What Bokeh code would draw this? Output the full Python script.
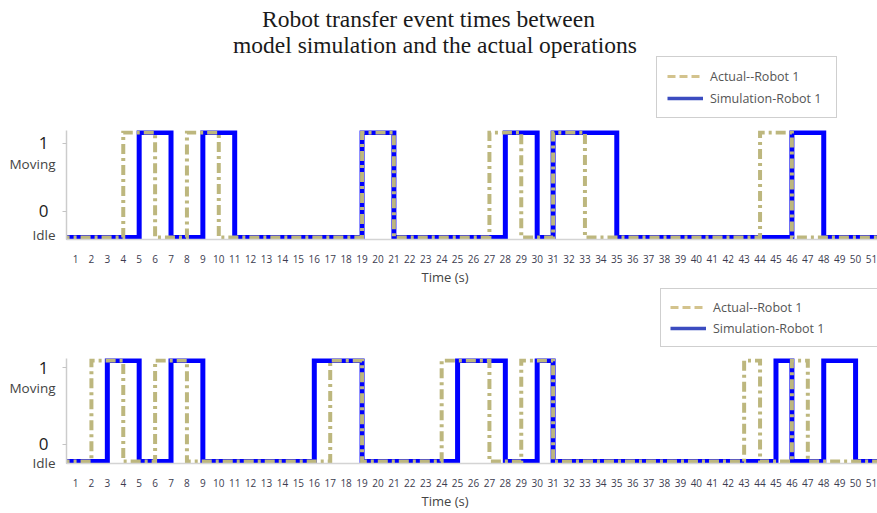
from bokeh.plotting import figure
from bokeh.models import Range1d, FixedTicker, Legend, LegendItem, LinearAxis, Title
from bokeh.core.properties import value
from bokeh.layouts import column
from bokeh.embed import file_html
from bokeh.resources import INLINE

# ---------------- data ----------------
time_ticks = list(range(1, 52))          # x tick labels, seconds
t_first, t_last = 0, 52                  # signal extent (clipped by the frame)

# top panel: rise / fall event times (s)
top_actual_rise = [4, 8, 19, 27, 31, 44]
top_actual_fall = [6, 10, 21, 29, 33, 46]
top_sim_rise = [5, 9, 19, 28, 31, 46]
top_sim_fall = [7, 11, 21, 30, 35, 48]

# bottom panel: rise / fall event times (s)
bot_actual_rise = [2, 6, 17, 24, 29, 43, 46]
bot_actual_fall = [4, 8, 19, 27, 31, 44, 47]
bot_sim_rise = [3, 7, 16, 25, 30, 45, 48]
bot_sim_fall = [5, 9, 19, 28, 31, 46, 50]

state_names = ["Idle", "Moving"]
state_digits = ["0", "1"]
legend_labels = ["Actual--Robot 1", "Simulation-Robot 1"]
title_lines = ["Robot transfer event times between",
               "model simulation and the actual operations"]
x_title = "Time (s)"

# ---------------- styling ----------------
SANS = "Open Sans"
SERIF = "Liberation Serif"
BLUE = "#0000ff"
KHAKI = "#bdb77e"
LEG_KHAKI = "#d3c38d"
LEG_BLUE = "#3b4cc0"
W = 877
LEFT = 66
NAN = float("nan")


def step_xy(rises, falls):
    xs, ys = [t_first], [0]
    for r, f in zip(rises, falls):
        xs += [r, r, f, f]
        ys += [0, 1, 1, 0]
    xs.append(t_last)
    ys.append(0)
    return xs, ys


def make_header(height, leg_loc, leg_pad, leg_spacing, leg_label_width):
    """Strip above a chart that holds the legend (and the title)."""
    h = figure(width=W, height=height, x_range=Range1d(LEFT, W),
               y_range=Range1d(height, 0), output_backend="svg",
               toolbar_location=None, x_axis_location=None,
               y_axis_location=None, min_border=0, min_border_left=LEFT)
    h.outline_line_color = None
    h.grid.visible = False
    # legend sample lines (no visible data of their own)
    la = h.line([NAN], [NAN], line_color=LEG_KHAKI, line_width=3,
                line_dash="8 4")
    ls = h.line([NAN], [NAN], line_color=LEG_BLUE, line_width=3.5)
    leg = Legend(items=[LegendItem(label=legend_labels[0], renderers=[la]),
                        LegendItem(label=legend_labels[1], renderers=[ls])],
                 location=leg_loc, margin=0, padding=leg_pad,
                 spacing=leg_spacing, glyph_width=36, glyph_height=18,
                 label_height=18, label_standoff=7,
                 label_width=leg_label_width,
                 label_text_font=SANS, label_text_font_size="12.5px",
                 label_text_color="#555555",
                 border_line_color="#a0a0a0", border_line_width=1,
                 background_fill_color="white", background_fill_alpha=1.0)
    h.add_layout(leg)
    return h


def make_chart(height, b_top, b_bottom, a_rise, a_fall, s_rise, s_fall,
               digit_pos, name_pos, time_standoff):
    p = figure(width=W, height=height,
               x_range=Range1d(0.4347, 51.377), y_range=Range1d(-0.02, 1.02),
               output_backend="svg", toolbar_location=None,
               min_border_left=LEFT, min_border_right=0,
               min_border_top=b_top, min_border_bottom=b_bottom)
    p.outline_line_color = None
    p.xgrid.visible = False
    p.ygrid.visible = False
    p.background_fill_color = "white"

    sx, sy = step_xy(s_rise, s_fall)
    ax, ay = step_xy(a_rise, a_fall)
    p.line(sx, sy, line_color=BLUE, line_width=5, line_join="miter")
    p.line(ax, ay, line_color=KHAKI, line_width=4, line_join="miter",
           line_dash="10 4 3 4")

    # x axis
    xa = p.xaxis[0]
    xa.ticker = FixedTicker(ticks=time_ticks)
    xa.major_tick_out = 0
    xa.major_tick_in = 0
    xa.major_tick_line_color = None
    xa.minor_tick_line_color = None
    xa.axis_line_color = "#d4d4d4"
    xa.axis_line_width = 1.5
    xa.major_label_standoff = 15
    xa.major_label_text_font = SANS
    xa.major_label_text_font_size = "10px"
    xa.major_label_text_color = "#3c3c50"

    # y axis: state digits
    ya = p.yaxis[0]
    ya.ticker = FixedTicker(ticks=digit_pos)
    ya.major_label_overrides = {digit_pos[0]: state_digits[0],
                                digit_pos[1]: state_digits[1]}
    ya.major_tick_out = 4
    ya.major_tick_in = 0
    ya.major_tick_line_color = "#c4c4c4"
    ya.minor_tick_line_color = None
    ya.axis_line_color = "#cccccc"
    ya.axis_line_width = 1.5
    ya.major_label_standoff = 14
    ya.major_label_text_font = SANS
    ya.major_label_text_font_size = "17px"
    ya.major_label_text_color = "#222222"

    # outer y axis: state names
    ya2 = LinearAxis(ticker=FixedTicker(ticks=name_pos),
                     major_label_overrides={name_pos[0]: state_names[0],
                                            name_pos[1]: state_names[1]},
                     axis_line_color=None, major_tick_line_color=None,
                     minor_tick_line_color=None, major_tick_out=0,
                     major_tick_in=0, major_label_standoff=-20,
                     major_label_text_font=SANS,
                     major_label_text_font_size="13.5px",
                     major_label_text_color="#444444")
    p.add_layout(ya2, "left")

    # x-axis title
    p.add_layout(Title(text=x_title, align="left", offset=355,
                       standoff=time_standoff, text_font=SANS,
                       text_font_size="13px", text_font_style="normal",
                       text_color="#444444"), "below")
    return p


h1 = make_header(130, leg_loc=(656 - LEFT, 12), leg_pad=10, leg_spacing=4,
                 leg_label_width=116)
h1.text(x=[428, 434.5], y=[18, 44], text=title_lines,
        text_align="center", text_baseline="middle",
        text_font=value(SERIF), text_font_size=value("23.5px"),
        text_color="#1a1a1a")

p1 = make_chart(156, 0, 47, top_actual_rise, top_actual_fall,
                top_sim_rise, top_sim_fall,
                digit_pos=[0.25, 0.9], name_pos=[0.02, 0.705],
                time_standoff=1)

h2 = make_header(68, leg_loc=(660 - LEFT, 7), leg_pad=9, leg_spacing=3,
                 leg_label_width=155)

p2 = make_chart(159, 4, 50, bot_actual_rise, bot_actual_fall,
                bot_sim_rise, bot_sim_fall,
                digit_pos=[0.17, 0.93], name_pos=[-0.0199, 0.723],
                time_standoff=1)

layout = column(h1, p1, h2, p2)
open("out.html", "w").write(file_html(layout, INLINE, "Robot transfer event times"))
